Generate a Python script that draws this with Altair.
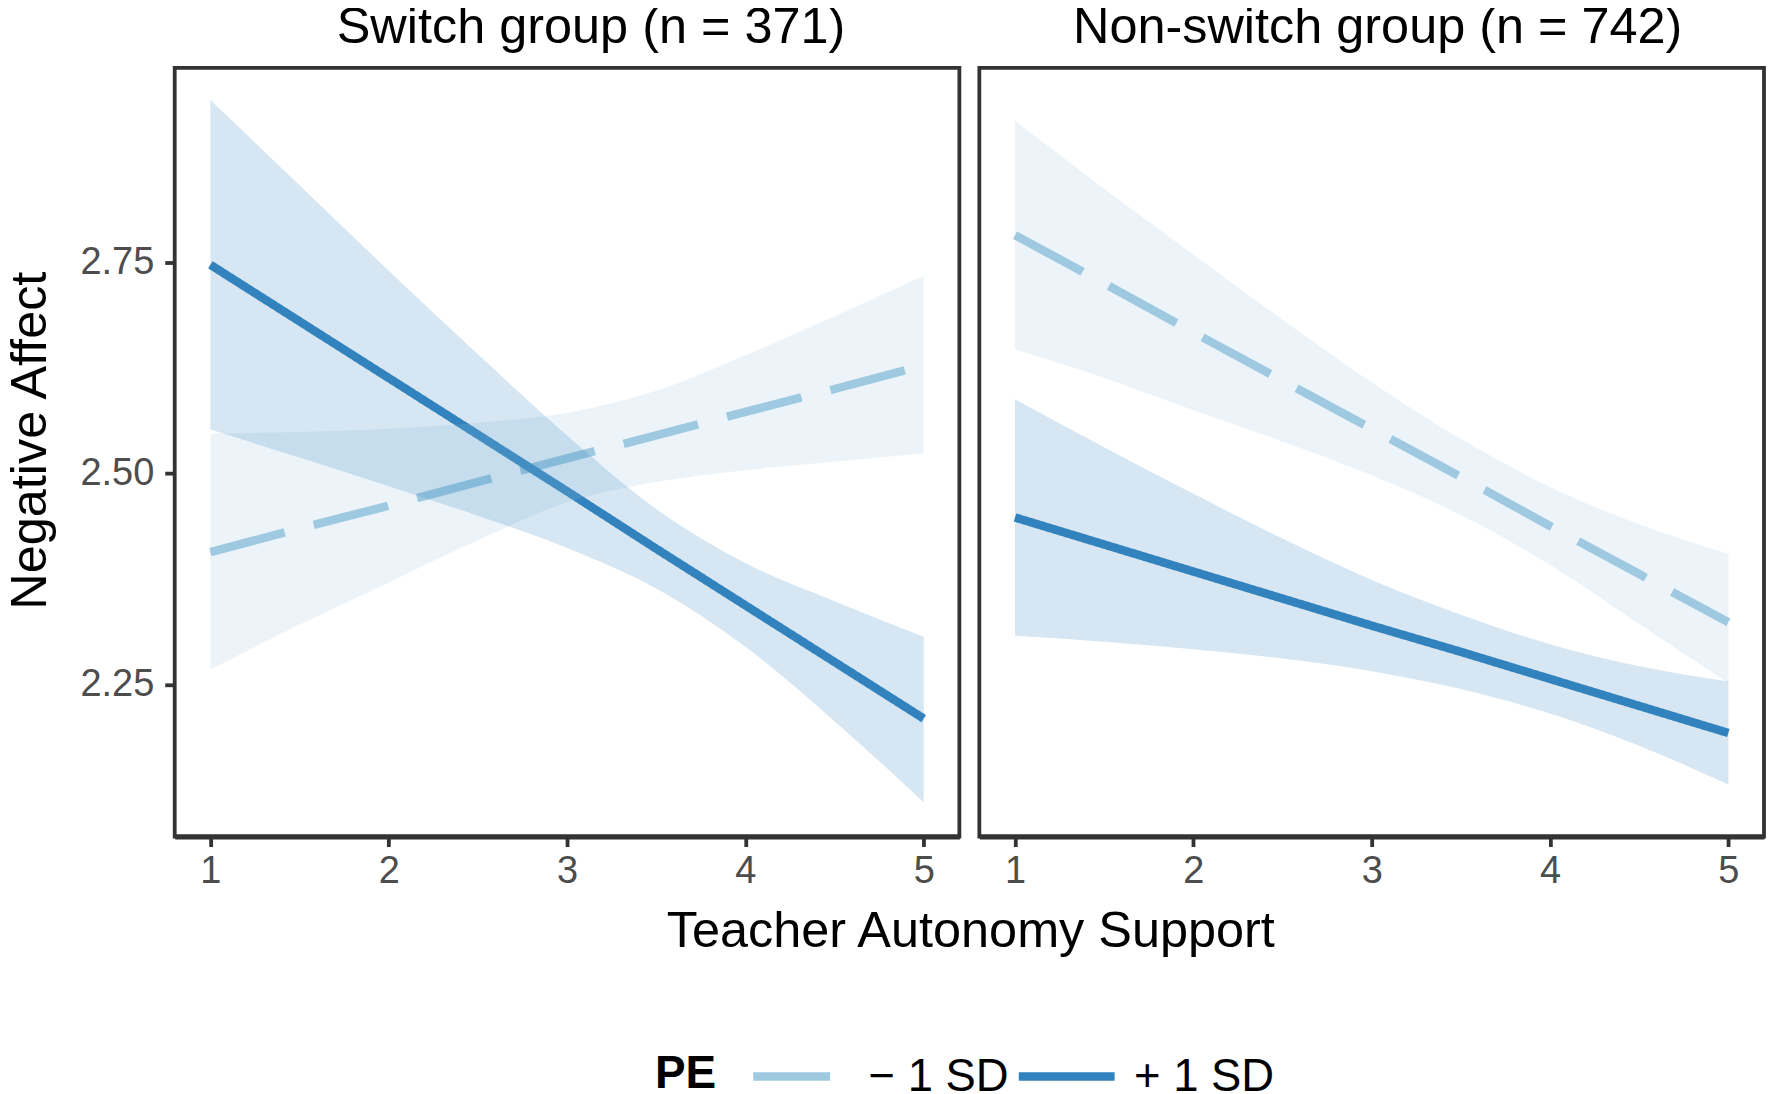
import altair as alt
import pandas as pd

# ---- data ----
X = [1, 1.5, 2, 2.5, 3, 3.5, 4, 4.5, 5]
PE_LEVELS = ["\u2212 1 SD", "+ 1 SD"]
GROUPS = ["Switch group (n = 371)", "Non-switch group (n = 742)"]

# Switch group
SW_MINUS_FIT = [2.407, 2.435, 2.462, 2.490, 2.518, 2.545, 2.573, 2.600, 2.628]
SW_MINUS_LO = [2.268, 2.321, 2.371, 2.421, 2.466, 2.490, 2.504, 2.514, 2.524]
SW_MINUS_HI = [2.547, 2.549, 2.553, 2.560, 2.572, 2.598, 2.640, 2.686, 2.734]
SW_PLUS_FIT = [2.747, 2.680, 2.613, 2.546, 2.479, 2.411, 2.344, 2.277, 2.210]
SW_PLUS_LO = [2.552, 2.519, 2.485, 2.450, 2.412, 2.364, 2.295, 2.207, 2.111]
SW_PLUS_HI = [2.942, 2.841, 2.740, 2.641, 2.545, 2.458, 2.394, 2.349, 2.307]

# Non-switch group
NS_MINUS_FIT = [2.782, 2.725, 2.667, 2.610, 2.553, 2.496, 2.438, 2.381, 2.324]
NS_MINUS_LO = [2.647, 2.613, 2.575, 2.538, 2.498, 2.451, 2.392, 2.322, 2.252]
NS_MINUS_HI = [2.917, 2.837, 2.759, 2.682, 2.608, 2.541, 2.484, 2.440, 2.405]
NS_PLUS_FIT = [2.448, 2.416, 2.384, 2.352, 2.320, 2.289, 2.257, 2.225, 2.193]
NS_PLUS_LO = [2.308, 2.301, 2.292, 2.281, 2.266, 2.245, 2.216, 2.178, 2.132]
NS_PLUS_HI = [2.588, 2.531, 2.476, 2.423, 2.374, 2.333, 2.298, 2.272, 2.254]

X_TICKS = [1, 2, 3, 4, 5]
Y_TICKS = [2.25, 2.50, 2.75]

LINE_COLORS = ["#9ecae1", "#3182bd"]
DASHES = [[77, 30], [1, 0]]
FONT = "Liberation Sans"

series = {
    (GROUPS[0], PE_LEVELS[0]): (SW_MINUS_FIT, SW_MINUS_LO, SW_MINUS_HI),
    (GROUPS[0], PE_LEVELS[1]): (SW_PLUS_FIT, SW_PLUS_LO, SW_PLUS_HI),
    (GROUPS[1], PE_LEVELS[0]): (NS_MINUS_FIT, NS_MINUS_LO, NS_MINUS_HI),
    (GROUPS[1], PE_LEVELS[1]): (NS_PLUS_FIT, NS_PLUS_LO, NS_PLUS_HI),
}
rows = []
for (g, pe), (fit, lo, hi) in series.items():
    for xi, f, l, h in zip(X, fit, lo, hi):
        rows.append({"group": g, "PE": pe, "x": xi, "fit": f, "lo": l, "hi": h})
df = pd.DataFrame(rows)

XS = alt.Scale(domain=[0.8, 5.2], nice=False, zero=False)
YS = alt.Scale(domain=[2.0705, 2.980], nice=False, zero=False)

legend = alt.Legend(
    title="PE", orient="none", legendX=481, legendY=958,
    direction="horizontal", titleOrient="left",
    titleAnchor="middle", titleBaseline="line-top", titleLineHeight=26,
    symbolType="stroke", symbolSize=9216, symbolStrokeWidth=8.5,
    labelFont=FONT, labelFontSize=45.5, labelColor="black", labelBaseline="middle",
    titleFont=FONT, titleFontSize=46, titleFontWeight="bold", titleColor="black",
    labelOffset=15, columnPadding=-8, titlePadding=32,
)


def panel(i):
    g = GROUPS[i]
    d = df[df["group"] == g]
    base = alt.Chart(d)
    if i == 0:
        xaxis = alt.Axis(values=X_TICKS, title="Teacher Autonomy Support",
                         titleX=797, titleY=110.6, titleAlign="center",
                         titleBaseline="alphabetic",
                         domain=True, domainColor="#333333", domainWidth=5.2)
        yaxis = alt.Axis(values=Y_TICKS, format=".2f", title="Negative Affect",
                         titleX=-129, titleY=373, titleAngle=270,
                         titleAlign="center", titleBaseline="alphabetic",
                         labelPadding=11)
        dx = 24
    else:
        xaxis = alt.Axis(values=X_TICKS, title=None,
                         domain=True, domainColor="#333333", domainWidth=5.2)
        yaxis = None
        dx = 6
    xe = alt.X("x:Q", scale=XS, axis=xaxis)
    lines = base.mark_line(strokeWidth=8.5, strokeCap="butt").encode(
        x=xe,
        y=alt.Y("fit:Q", scale=YS, axis=yaxis),
        color=alt.Color("PE:N", scale=alt.Scale(domain=PE_LEVELS, range=LINE_COLORS), legend=legend),
        strokeDash=alt.StrokeDash("PE:N", scale=alt.Scale(domain=PE_LEVELS, range=DASHES), legend=legend),
    )
    bands = base.mark_area(fillOpacity=0.2, interpolate="monotone").encode(
        x=xe,
        y=alt.Y("lo:Q", scale=YS, axis=yaxis),
        y2="hi:Q",
        fill=alt.Fill("PE:N", scale=alt.Scale(domain=PE_LEVELS, range=LINE_COLORS), legend=None),
    )
    return alt.layer(lines, bands).properties(
        width=786, height=770,
        title=alt.Title(g, fontSize=50.5, font=FONT, fontWeight="normal", color="black",
                        offset=14, dx=dx, anchor="middle"),
    )


chart = alt.hconcat(panel(0), panel(1), spacing=20, bounds="flush").properties(
    padding={"left": -4, "top": -8, "right": 0, "bottom": 0}
).configure_view(
    stroke="#333333", strokeWidth=3.8
).configure_axis(
    domain=False, grid=False, tickColor="#333333", tickWidth=3.8, tickSize=10,
    labelFont=FONT, labelFontSize=38, labelColor="#4d4d4d", labelPadding=6,
    titleFont=FONT, titleFontSize=50.5, titleColor="black", titleFontWeight="normal",
)

chart.save("out.html", embed_options={"renderer": "svg", "actions": False})
